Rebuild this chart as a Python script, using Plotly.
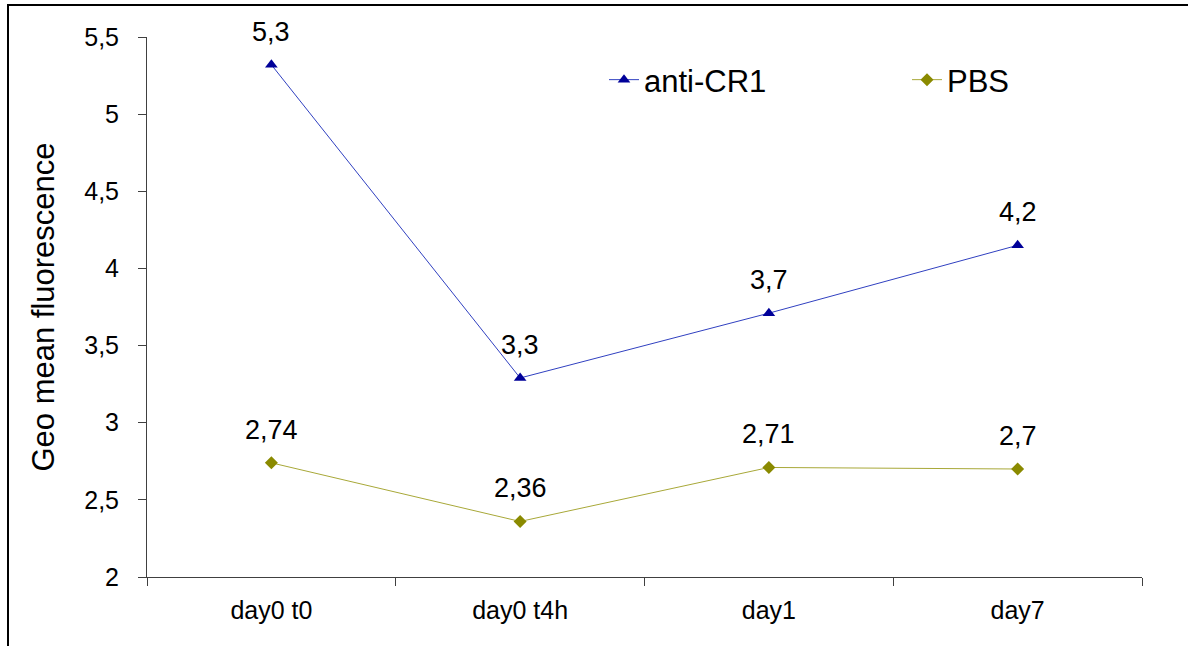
import plotly.graph_objects as go

categories = ["day0 t0", "day0 t4h", "day1", "day7"]
anti_cr1 = [5.32, 3.29, 3.71, 4.15]
anti_cr1_labels = ["5,3", "3,3", "3,7", "4,2"]
pbs = [2.74, 2.36, 2.71, 2.70]
pbs_labels = ["2,74", "2,36", "2,71", "2,7"]
y_ticks = [2, 2.5, 3, 3.5, 4, 4.5, 5, 5.5]
y_ticktext = ["2", "2,5", "3", "3,5", "4", "4,5", "5", "5,5"]

FONT = "Arial, Liberation Sans, sans-serif"
W, H = 1188, 646
L, R, T, B = 147, 46, 37, 69
pw, ph = W - L - R, H - T - B

fig = go.Figure()
fig.add_trace(go.Scatter(
    x=categories, y=anti_cr1, name="anti-CR1", mode="lines+markers",
    line=dict(color="#3040c0", width=1),
    marker=dict(symbol="triangle-up", size=11, color="#000099"),
))
fig.add_trace(go.Scatter(
    x=categories, y=pbs, name="PBS", mode="lines+markers",
    line=dict(color="#a8a838", width=1),
    marker=dict(symbol="diamond", size=10, color="#8a8a00"),
))

annotations = []
for xs, ys, labs in [(categories, anti_cr1, anti_cr1_labels), (categories, pbs, pbs_labels)]:
    for xv, yv, lab in zip(xs, ys, labs):
        annotations.append(dict(
            x=xv, y=yv, text=lab, showarrow=False, xanchor="center", yanchor="middle",
            yshift=33, font=dict(family=FONT, size=27, color="black"),
        ))

# outer frame (left and top visible, others run off the page)
x0 = (8 - L) / pw
y1 = 1 + (T - 5) / ph
x1 = (W + 20 - L) / pw
y0 = -(B + 20) / ph

fig.update_layout(
    width=W, height=H,
    margin=dict(l=L, r=R, t=T, b=B, autoexpand=False),
    paper_bgcolor="white", plot_bgcolor="white",
    font=dict(family=FONT, size=25, color="black"),
    showlegend=True,
    legend=dict(
        orientation="h", x=(604 - L) / pw, y=1 - (80 - T) / ph,
        xanchor="left", yanchor="middle",
        font=dict(family=FONT, size=31, color="black"),
        entrywidth=258, bgcolor="rgba(0,0,0,0)",
    ),
    annotations=annotations,
    shapes=[dict(type="rect", xref="paper", yref="paper", x0=x0, x1=x1, y0=y0, y1=y1,
                 line=dict(color="black", width=2), fillcolor="rgba(0,0,0,0)", layer="above")],
    xaxis=dict(
        type="category", range=[-0.5, 3.5], tickson="boundaries",
        ticks="outside", ticklen=8, tickcolor="#404040",
        showline=True, linecolor="#404040", linewidth=1,
        showgrid=False, zeroline=False,
        tickfont=dict(family=FONT, size=25, color="black"),
        ticklabelstandoff=11,
    ),
    yaxis=dict(
        range=[2, 5.5], tickvals=y_ticks, ticktext=y_ticktext,
        ticks="outside", ticklen=8, tickcolor="#404040",
        showline=True, linecolor="#404040", linewidth=1,
        showgrid=False, zeroline=False,
        tickfont=dict(family=FONT, size=25, color="black"),
        ticklabelstandoff=14,
        title=dict(text="Geo mean fluorescence", font=dict(family=FONT, size=31, color="black"), standoff=20),
    ),
)

fig.write_html("out.html")
